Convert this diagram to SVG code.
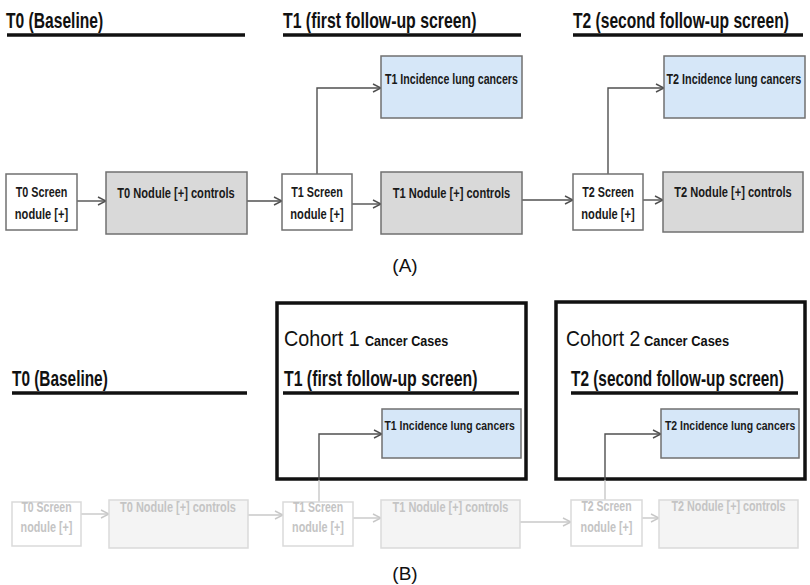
<svg xmlns="http://www.w3.org/2000/svg" width="810" height="585" viewBox="0 0 810 585">
<defs>
<style>
text{font-family:"Liberation Sans",Arial,sans-serif}
.hd{font-weight:bold;font-size:22px;fill:#111}
.lb{font-weight:bold;font-size:15px;fill:#1a1a1a;text-anchor:middle}
.lbs{font-weight:bold;font-size:14px;fill:#1a1a1a}
.lbb{font-weight:bold;font-size:12px;fill:#1a1a1a}
.fl{font-weight:bold;font-size:15px;fill:#c4c4c4;text-anchor:middle}
.cap{font-size:19px;fill:#111;text-anchor:middle}
.co{font-size:22px;fill:#111}
.cc{font-weight:bold;font-size:14px;fill:#111}
.ul{stroke:#111;stroke-width:3.5}
.wb{fill:#fff;stroke:#707070;stroke-width:1.5}
.gb{fill:#d9d9d9;stroke:#707070;stroke-width:1.5}
.bb{fill:#d6e7f8;stroke:#707070;stroke-width:1.5}
.fwb{fill:#fff;stroke:#dadada;stroke-width:1.5}
.fgb{fill:#f4f4f4;stroke:#dadada;stroke-width:1.5}
.cb{fill:none;stroke:#111;stroke-width:3.5}
.ar{fill:none;stroke:#505050;stroke-width:1.4;marker-end:url(#ah)}
.fln{fill:none;stroke:#c8c8c8;stroke-width:1.4}
.far{fill:none;stroke:#c8c8c8;stroke-width:1.4;marker-end:url(#fah)}
</style>
<marker id="ah" viewBox="0 0 10 10" refX="9" refY="5" markerWidth="10" markerHeight="10" markerUnits="userSpaceOnUse" orient="auto">
<path d="M1,1 L9,5 L1,9" fill="none" stroke="#505050" stroke-width="1.4"/>
</marker>
<marker id="fah" viewBox="0 0 10 10" refX="9" refY="5" markerWidth="10" markerHeight="10" markerUnits="userSpaceOnUse" orient="auto">
<path d="M1,1 L9,5 L1,9" fill="none" stroke="#c8c8c8" stroke-width="1.4"/>
</marker>
</defs>
<rect width="810" height="585" fill="#fff"/>

<!-- Panel A headings -->
<g id="A-headings">
<text class="hd" transform="translate(6,28) scale(0.71,1)">T0 (Baseline)</text>
<line class="ul" x1="7" y1="35" x2="245" y2="35"/>
<text class="hd" transform="translate(283,28) scale(0.72,1)">T1 (first follow-up screen)</text>
<line class="ul" x1="283" y1="35" x2="521" y2="35"/>
<text class="hd" transform="translate(573,28) scale(0.71,1)">T2 (second follow-up screen)</text>
<line class="ul" x1="573" y1="35" x2="803" y2="35"/>
</g>

<!-- Panel A connectors -->
<g id="A-connectors">
<line class="ar" x1="77" y1="201" x2="106" y2="201"/>
<line class="ar" x1="247" y1="201" x2="282" y2="201"/>
<line class="ar" x1="352" y1="204" x2="381" y2="204"/>
<polyline class="ar" points="317,174 317,88 381,88"/>
<line class="ar" x1="522" y1="200" x2="573" y2="200"/>
<line class="ar" x1="643" y1="200" x2="663" y2="200"/>
<polyline class="ar" points="608,174 608,88 664,88"/>
</g>

<!-- Panel A nodes -->
<g id="A-t0-screen">
<rect class="wb" x="6" y="174" width="71" height="56"/>
<text class="lb" transform="translate(41.5,197) scale(0.72,1)">T0 Screen</text>
<text class="lb" transform="translate(41.5,219) scale(0.74,1)">nodule [+]</text>
</g>
<g id="A-t0-nodule">
<rect class="gb" x="106" y="172" width="141" height="62"/>
<text class="lb" transform="translate(176,198) scale(0.74,1)">T0 Nodule [+] controls</text>
</g>
<g id="A-t1-screen">
<rect class="wb" x="282" y="174" width="70" height="56"/>
<text class="lb" transform="translate(317,197) scale(0.72,1)">T1 Screen</text>
<text class="lb" transform="translate(317,219) scale(0.74,1)">nodule [+]</text>
</g>
<g id="A-t1-nodule">
<rect class="gb" x="381" y="172" width="141" height="62"/>
<text class="lb" transform="translate(451.5,198) scale(0.74,1)">T1 Nodule [+] controls</text>
</g>
<g id="A-t1-incidence">
<rect class="bb" x="381" y="56" width="141" height="62"/>
<text class="lbs" transform="translate(385,84) scale(0.76,1)">T1 Incidence lung cancers</text>
</g>
<g id="A-t2-screen">
<rect class="wb" x="573" y="174" width="70" height="56"/>
<text class="lb" transform="translate(608,197) scale(0.72,1)">T2 Screen</text>
<text class="lb" transform="translate(608,219) scale(0.74,1)">nodule [+]</text>
</g>
<g id="A-t2-nodule">
<rect class="gb" x="663" y="172" width="140" height="60"/>
<text class="lb" transform="translate(733,197) scale(0.74,1)">T2 Nodule [+] controls</text>
</g>
<g id="A-t2-incidence">
<rect class="bb" x="664" y="56" width="141" height="62"/>
<text class="lbs" transform="translate(666.5,84) scale(0.77,1)">T2 Incidence lung cancers</text>
</g>
<text class="cap" x="405" y="272">(A)</text>

<!-- Panel B -->
<g id="B-t0-heading">
<text class="hd" transform="translate(12,386) scale(0.7,1)">T0 (Baseline)</text>
<line class="ul" x1="12" y1="393" x2="247" y2="393"/>
</g>
<g id="B-cohort1">
<rect class="cb" x="277" y="303" width="249" height="176"/>
<text class="co" transform="translate(284,346) scale(0.9,1)">Cohort 1</text>
<text class="cc" transform="translate(365,346) scale(0.9,1)">Cancer Cases</text>
<text class="hd" transform="translate(284,386) scale(0.72,1)">T1 (first follow-up screen)</text>
<line class="ul" x1="283" y1="393" x2="519" y2="393"/>
</g>
<g id="B-cohort2">
<rect class="cb" x="556" y="302" width="249" height="177"/>
<text class="co" transform="translate(566,346) scale(0.88,1)">Cohort 2</text>
<text class="cc" transform="translate(644,346) scale(0.92,1)">Cancer Cases</text>
<text class="hd" transform="translate(571,386) scale(0.7,1)">T2 (second follow-up screen)</text>
<line class="ul" x1="571" y1="393" x2="798" y2="393"/>
</g>

<g id="B-connectors">
<line class="far" x1="81" y1="514" x2="109" y2="514"/>
<line class="far" x1="248" y1="515" x2="283" y2="515"/>
<line class="far" x1="353" y1="518" x2="381" y2="518"/>
<line class="far" x1="520" y1="522" x2="571" y2="522"/>
<line class="far" x1="642" y1="518" x2="659" y2="518"/>
<line class="fln" x1="319" y1="502" x2="319" y2="480"/>
<polyline class="ar" points="319,480 319,434 382,434"/>
<line class="fln" x1="605" y1="500" x2="605" y2="480"/>
<polyline class="ar" points="605,480 605,434 661,434"/>
</g>

<g id="B-t1-incidence">
<rect class="bb" x="382" y="409" width="139" height="49"/>
<text class="lbb" transform="translate(384.5,430) scale(0.87,1)">T1 Incidence lung cancers</text>
</g>
<g id="B-t2-incidence">
<rect class="bb" x="661" y="409" width="138" height="49"/>
<text class="lbb" transform="translate(665,430) scale(0.87,1)">T2 Incidence lung cancers</text>
</g>

<g id="B-t0-screen">
<rect class="fwb" x="12" y="502" width="69" height="44"/>
<text class="fl" transform="translate(46.5,512) scale(0.7,1)">T0 Screen</text>
<text class="fl" transform="translate(46.5,532) scale(0.72,1)">nodule [+]</text>
</g>
<g id="B-t0-nodule">
<rect class="fgb" x="109" y="500" width="139" height="48"/>
<text class="fl" transform="translate(178,512) scale(0.73,1)">T0 Nodule [+] controls</text>
</g>
<g id="B-t1-screen">
<rect class="fwb" x="283" y="502" width="70" height="44"/>
<text class="fl" transform="translate(318,512) scale(0.7,1)">T1 Screen</text>
<text class="fl" transform="translate(318,532) scale(0.72,1)">nodule [+]</text>
</g>
<g id="B-t1-nodule">
<rect class="fgb" x="381" y="500" width="139" height="48"/>
<text class="fl" transform="translate(450.5,512) scale(0.73,1)">T1 Nodule [+] controls</text>
</g>
<g id="B-t2-screen">
<rect class="fwb" x="571" y="500" width="71" height="46"/>
<text class="fl" transform="translate(606.5,511) scale(0.7,1)">T2 Screen</text>
<text class="fl" transform="translate(606.5,532) scale(0.72,1)">nodule [+]</text>
</g>
<g id="B-t2-nodule">
<rect class="fgb" x="659" y="500" width="139" height="48"/>
<text class="fl" transform="translate(728.5,511) scale(0.72,1)">T2 Nodule [+] controls</text>
</g>
<text class="cap" x="405" y="580">(B)</text>
</svg>
